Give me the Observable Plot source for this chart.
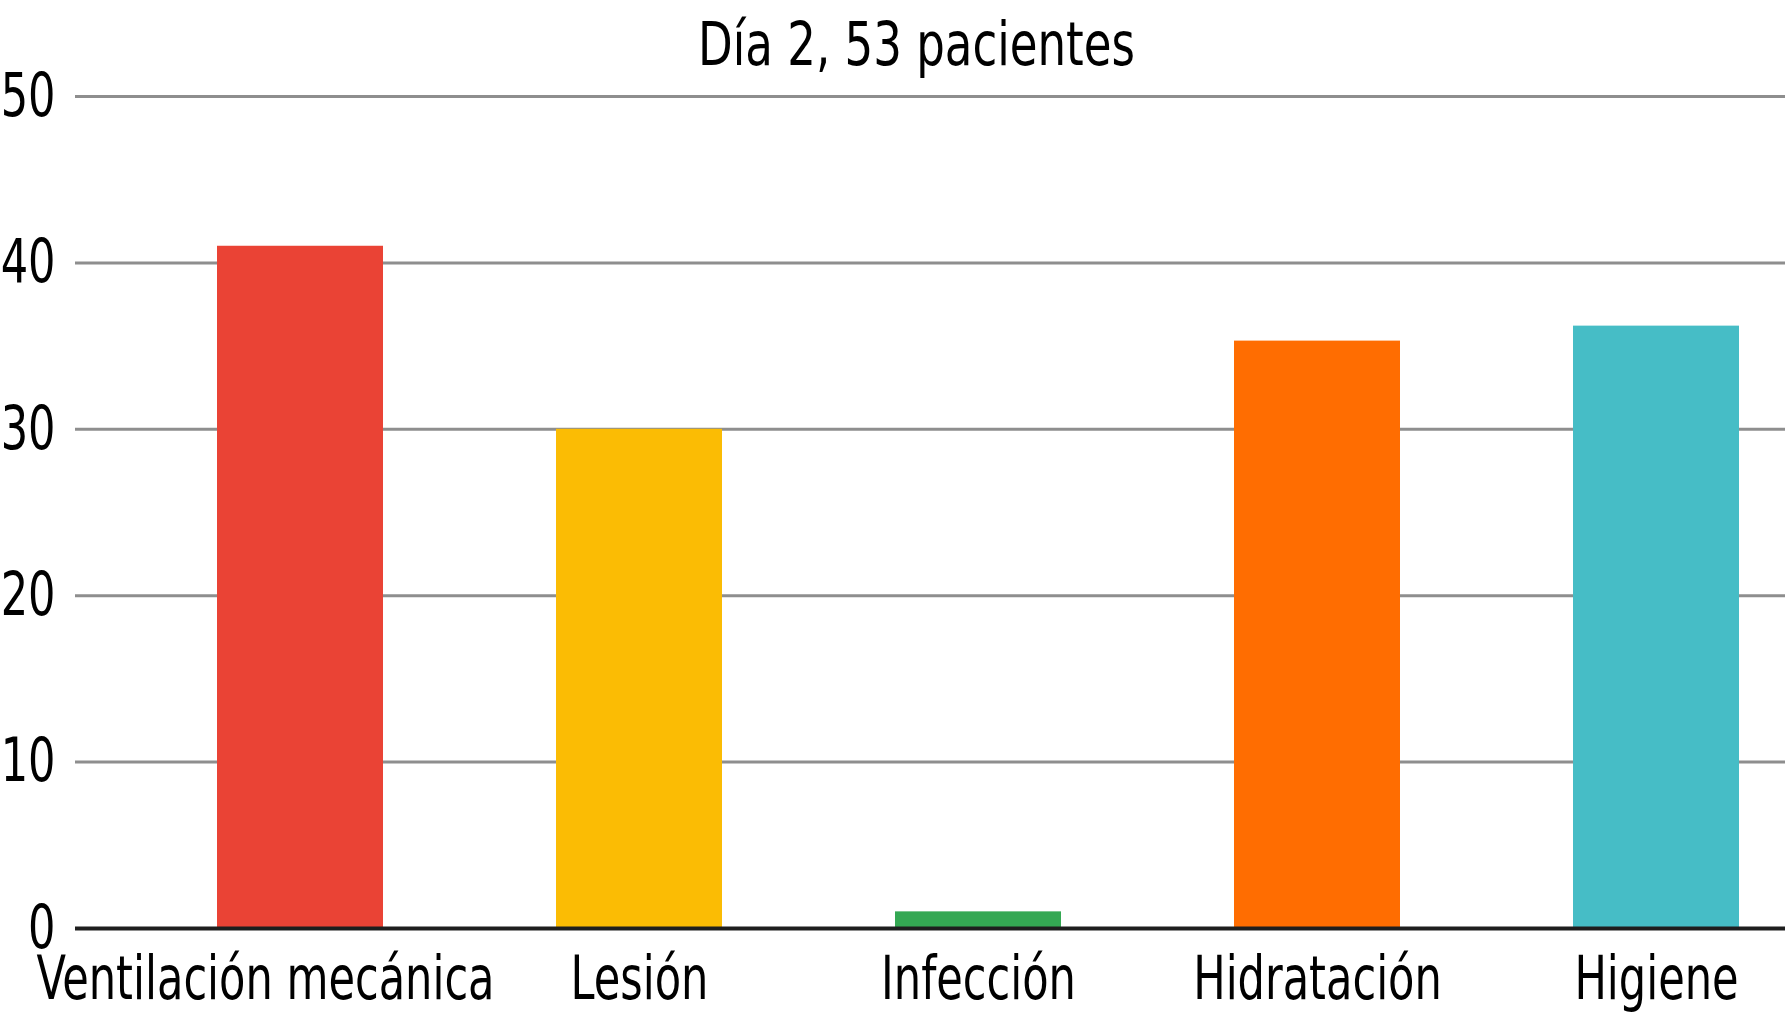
<!DOCTYPE html>
<html><head><meta charset="utf-8">
<script src="https://cdn.jsdelivr.net/npm/d3@7"></script>
<script src="https://cdn.jsdelivr.net/npm/@observablehq/plot@0.6"></script>
<style>body{margin:0;background:#fff} svg text{font-stretch:condensed}</style>
</head><body><div id="chart"></div>
<script>
const categories = ["Ventilación mecánica", "Lesión", "Infección", "Hidratación", "Higiene"];
const values = [41, 30, 1, 35.3, 36.2];
const colors = ["#EA4335", "#FBBC04", "#34A853", "#FF6D01", "#46BDC6"];
const yTicks = [0, 10, 20, 30, 40, 50];
const title = "Día 2, 53 pacientes";

const data = categories.map((c, i) => ({category: c, value: values[i]}));
const font = "'DejaVu Sans Condensed','Liberation Sans Narrow','Arial Narrow',sans-serif";

const chart = Plot.plot({
  width: 1785, height: 1024,
  marginTop: 96, marginBottom: 96, marginLeft: 75, marginRight: 0,
  style: {fontFamily: font, fontSize: "60px", color: "#000", background: "#fff"},
  x: {domain: categories, range: [216, 1739], paddingInner: 0.5113, paddingOuter: 0, label: null},
  y: {domain: [0, 50], label: null},
  color: {domain: categories, range: colors},
  marks: [
    Plot.ruleY(yTicks.filter(d => d > 0), {stroke: "#8e8e8e", strokeWidth: 3}),
    Plot.barY(data, {x: "category", y: "value", fill: "category"}),
    Plot.ruleY([0], {stroke: "#1e1e1e", strokeWidth: 4}),
    Plot.axisY({ticks: yTicks, tickSize: 0, tickPadding: 20, fontSize: 60, label: null, tickFormat: d => String(d)}),
    Plot.axisX({tickSize: 0, tickPadding: 28, fontSize: 60, label: null}),
    Plot.text([title], {frameAnchor: "top", dx: -14, dy: -51, fontSize: 60, fill: "#000", lineAnchor: "middle", textAnchor: "middle"})
  ]
});
document.getElementById("chart").append(chart);

// narrow the glyphs to match the condensed face of the reference
const texts = [...chart.querySelectorAll("text")];
const ref = texts.find(t => t.textContent === categories[0]);
const f = ref ? 458 / ref.getComputedTextLength() : 1;
texts.forEach(t => {
  const L = t.getComputedTextLength();
  if (L > 0) {
    const target = t.textContent === title ? 437 : L * f;
    t.setAttribute("textLength", target);
    t.setAttribute("lengthAdjust", "spacingAndGlyphs");
  }
});
// the first category label sits a little left of its bar in the reference
if (ref) ref.setAttribute("dx", -35);
</script>
</body></html>
